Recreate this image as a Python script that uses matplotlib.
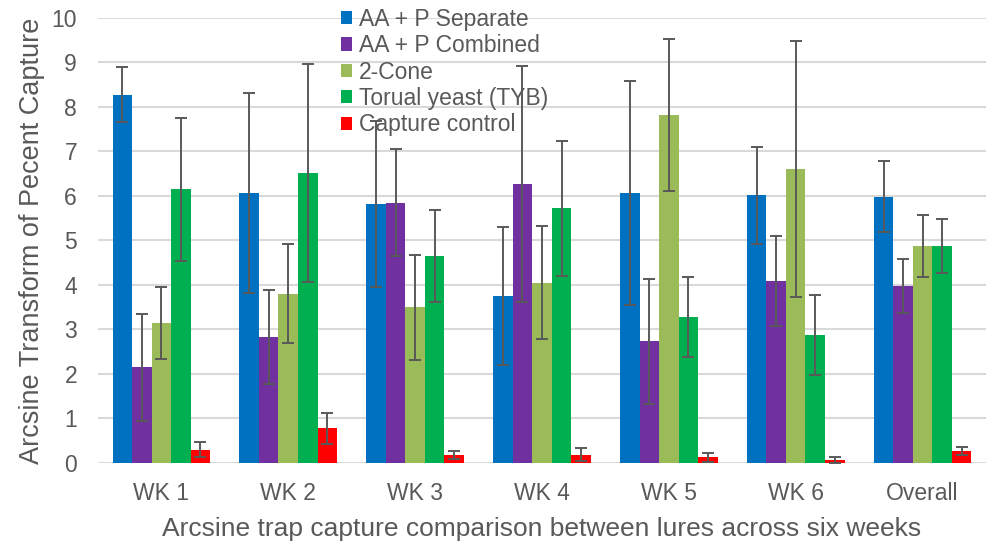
import numpy as np
import matplotlib
matplotlib.use("Agg")
import matplotlib.pyplot as plt

plt.rcParams["font.family"] = ["Liberation Sans", "DejaVu Sans"]

# ===== Data =====
groups = ["WK 1", "WK 2", "WK 3", "WK 4", "WK 5", "WK 6", "Overall"]
series = ["AA + P Separate", "AA + P Combined", "2-Cone",
          "Torual yeast (TYB)", "Capture control"]
colors = ["#0070C0", "#7030A0", "#9BBB59", "#00B050", "#FF0000"]

separate = [8.28, 6.07, 5.82, 3.75, 6.07, 6.02, 5.98]
separate_err = [0.62, 2.25, 1.87, 1.55, 2.51, 1.09, 0.80]
combined = [2.15, 2.83, 5.85, 6.27, 2.73, 4.08, 3.98]
combined_err = [1.20, 1.05, 1.20, 2.66, 1.40, 1.01, 0.60]
two_cone = [3.15, 3.80, 3.50, 4.05, 7.82, 6.60, 4.88]
two_cone_err = [0.81, 1.11, 1.18, 1.27, 1.70, 2.88, 0.70]
yeast = [6.15, 6.52, 4.65, 5.72, 3.28, 2.87, 4.88]
yeast_err = [1.60, 2.45, 1.03, 1.51, 0.90, 0.90, 0.60]
control = [0.30, 0.78, 0.18, 0.19, 0.13, 0.06, 0.27]
control_err = [0.17, 0.35, 0.08, 0.14, 0.10, 0.07, 0.08]

values = [separate, combined, two_cone, yeast, control]
errors = [separate_err, combined_err, two_cone_err, yeast_err, control_err]

# ===== Plot =====
text_color = "#595959"
fig = plt.figure(figsize=(9.89, 5.45), dpi=100)
ax = fig.add_axes([0.099, 0.1505, 0.898, 0.8165])

x = np.arange(len(groups))
width = 0.154
for i, (name, vals, errs) in enumerate(zip(series, values, errors)):
    offset = (i - 2) * width
    ax.bar(x + offset, vals, width, color=colors[i], label=name,
           yerr=errs, capsize=4.5,
           error_kw=dict(ecolor="#595959", elinewidth=1.4, capthick=1.4),
           zorder=3)

ax.set_xlim(-0.5, len(groups) - 0.5)
ax.set_ylim(0, 10)
ax.set_yticks(range(0, 11))
ax.set_xticks(x)
ax.set_xticklabels(groups)
ax.tick_params(axis="both", length=0, colors=text_color, labelsize=16.5)
ax.tick_params(axis="x", pad=14)
ax.tick_params(axis="y", pad=15)
ax.grid(axis="y", color="#D9D9D9", linewidth=1.5, zorder=0)
for side in ["top", "right", "left", "bottom"]:
    ax.spines[side].set_visible(False)

ax.set_xlabel("Arcsine trap capture comparison between lures across six weeks",
              fontsize=19, color=text_color, labelpad=8)
ax.set_ylabel("Arcsine Transform of Pecent Capture",
              fontsize=19.5, color=text_color, labelpad=5)

leg = ax.legend(loc="upper left", bbox_to_anchor=(0.332, 1.009),
                bbox_transform=fig.transFigure, frameon=False,
                fontsize=16.5, handlelength=0.5, handleheight=0.5,
                handletextpad=0.3, labelspacing=0.15, borderpad=0.05)
for t in leg.get_texts():
    t.set_color(text_color)
leg.set_zorder(5)

plt.savefig("out.png", dpi=100)
